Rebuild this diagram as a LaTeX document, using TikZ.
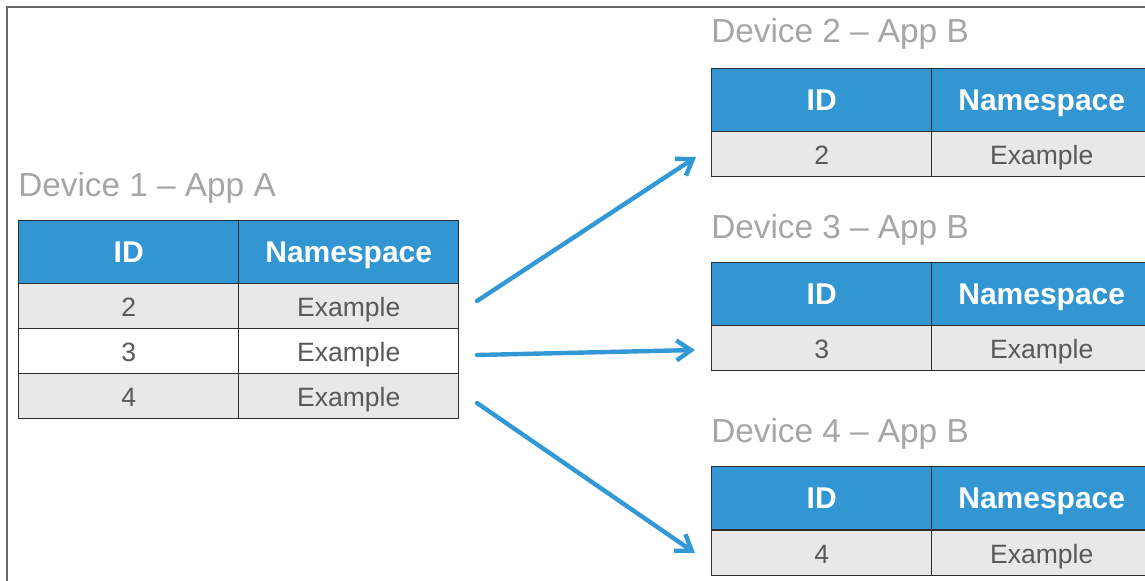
\documentclass[tikz,border=0pt]{standalone}
\usepackage{fontspec}
\setmainfont{Liberation Sans}
\usetikzlibrary{arrows.meta}
\definecolor{hdr}{HTML}{3196D2}
\definecolor{rowgray}{HTML}{E8E8E8}
\definecolor{bordc}{HTML}{2E2E2E}
\definecolor{titlec}{HTML}{A6A6A6}
\definecolor{bodyc}{HTML}{595959}
\definecolor{arrowc}{HTML}{3398D6}
\definecolor{framec}{HTML}{666666}
\tikzset{
  cell/.style={draw=bordc, line width=1.1pt, inner sep=0pt, anchor=north west, minimum width=165pt, text depth=0pt},
  hcell/.style={cell, fill=hdr, minimum height=47.25pt, text=white, text height=16.1pt, font=\fontsize{22.5}{24}\selectfont\bfseries},
  gcell/.style={cell, fill=rowgray, minimum height=33.75pt, text=bodyc, text height=15.8pt, font=\fontsize{19.9}{22}\selectfont},
  wcell/.style={cell, fill=white, minimum height=33.75pt, text=bodyc, text height=15.8pt, font=\fontsize{19.9}{22}\selectfont},
  ttl/.style={anchor=base west, inner sep=0pt, text=titlec, font=\fontsize{25}{26}\selectfont},
  flow/.style={draw=arrowc, line width=3.3pt, line cap=round, -{Straight Barb[length=11pt,width=15pt,line width=3.3pt]}},
  frame/.style={draw=framec, line width=1.2pt}
}
\begin{document}
\begin{tikzpicture}[x=0.75pt,y=-0.75pt]
\useasboundingbox (0,0) rectangle (1145,581);
\fill[white] (0,0) rectangle (1145,581);
\draw[frame] (7,581) -- (7,7) -- (1145,7);

% Device 1
\node[ttl] (t1) at (18,196) {Device 1 – App A};
\node[hcell] (a-h1) at (18,220) {ID};
\node[hcell] (a-h2) at (238,220) {Namespace};
\node[gcell] (a-r1c1) at (18,283) {2};
\node[gcell] (a-r1c2) at (238,283) {Example};
\node[wcell] (a-r2c1) at (18,328) {3};
\node[wcell] (a-r2c2) at (238,328) {Example};
\node[gcell] (a-r3c1) at (18,373) {4};
\node[gcell] (a-r3c2) at (238,373) {Example};

% Device 2
\node[ttl] (t2) at (711,43) {Device 2 – App B};
\node[hcell] (b-h1) at (711,68) {ID};
\node[hcell] (b-h2) at (931,68) {Namespace};
\node[gcell] (b-r1c1) at (711,131) {2};
\node[gcell] (b-r1c2) at (931,131) {Example};

% Device 3
\node[ttl] (t3) at (711,238) {Device 3 – App B};
\node[hcell] (c-h1) at (711,262) {ID};
\node[hcell] (c-h2) at (931,262) {Namespace};
\node[gcell] (c-r1c1) at (711,325) {3};
\node[gcell] (c-r1c2) at (931,325) {Example};

% Device 4
\node[ttl] (t4) at (711,442) {Device 4 – App B};
\node[hcell] (d-h1) at (711,466) {ID};
\node[hcell] (d-h2) at (931,466) {Namespace};
\node[gcell] (d-r1c1) at (711,530) {4};
\node[gcell] (d-r1c2) at (931,530) {Example};

% arrows
\coordinate (s1) at (477,301);
\coordinate (e1) at (696,157);
\coordinate (s2) at (477,355);
\coordinate (e2) at (695,350);
\coordinate (s3) at (477,403);
\coordinate (e3) at (695,553);
\draw[flow] (s1) -- (e1);
\draw[flow] (s2) -- (e2);
\draw[flow] (s3) -- (e3);
\end{tikzpicture}
\end{document}
